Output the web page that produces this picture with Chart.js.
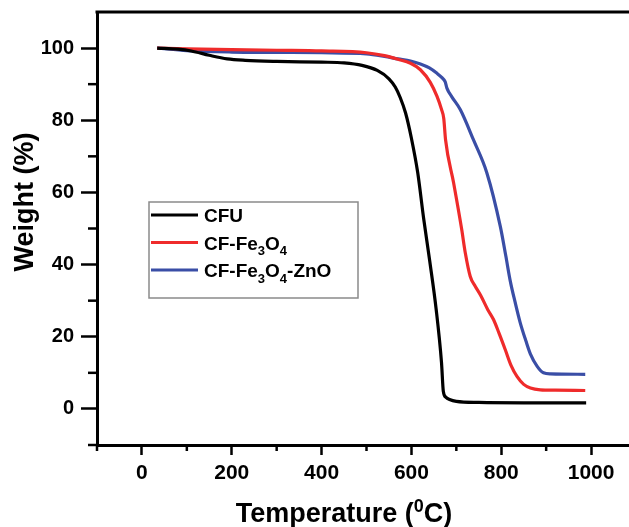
<!DOCTYPE html>
<html>
<head>
<meta charset="utf-8">
<script src="https://cdn.jsdelivr.net/npm/chart.js@4"></script>
<style>
  html, body { margin: 0; padding: 0; background: #fff; overflow: hidden; }
  #wrap { width: 650px; height: 527px; }
</style>
</head>
<body>
<div id="wrap"><canvas id="tga"></canvas></div>
<script>
// ── data ──
const seriesNames = ['CFU', 'CF-Fe3O4', 'CF-Fe3O4-ZnO'];
const seriesColors = ['#000000', '#ef2b2b', '#3a4ea6'];

const cfuT = [34, 80, 110, 150, 190, 230, 300, 400, 450, 490, 524, 550, 564, 575, 587, 600, 614, 627, 641, 655, 667, 671, 677, 685, 700, 750, 850, 989];
const cfuW = [100, 99.7, 99.2, 98, 97, 96.6, 96.3, 96.1, 95.9, 95.2, 93.8, 91.5, 89.2, 86.3, 82, 75, 65.5, 53, 40.8, 27.7, 12.8, 4.9, 3.2, 2.6, 2.1, 1.8, 1.7, 1.7];

const feT = [34, 100, 200, 300, 400, 500, 540, 570, 598, 620, 642, 657, 667, 672, 676, 694, 712, 720, 731, 742, 754, 770, 783, 795, 809, 822, 835, 850, 865, 887, 920, 987];
const feW = [100, 99.8, 99.6, 99.4, 99.2, 98.7, 97.9, 96.9, 95.8, 94, 90.5, 86.6, 83, 80.5, 74.6, 62.6, 49.7, 43.2, 36.7, 34, 31.5, 27.5, 24.7, 21, 16.4, 12, 9, 6.8, 5.8, 5.3, 5.2, 5.1];

const znT = [34, 100, 200, 300, 400, 500, 540, 570, 598, 620, 640, 657, 668, 675, 679, 690, 709, 738, 768, 798, 810, 820, 831, 842, 855, 865, 880, 894, 910, 987];
const znW = [100, 99.3, 98.9, 98.8, 98.7, 98.4, 97.7, 97, 96.4, 95.6, 94.5, 93, 91.8, 90.7, 88.9, 86.5, 82.9, 74.6, 65.4, 50.5, 42.5, 35.5, 29.5, 24, 18.8, 15.2, 11.8, 10, 9.7, 9.6];

const xTicks = [0, 200, 400, 600, 800, 1000];
const xMinor = [-100, 100, 300, 500, 700, 900];
const yTicks = [0, 20, 40, 60, 80, 100];
const yMinor = [-10, 10, 30, 50, 70, 90];

const FONT = "'Liberation Sans', Arial, sans-serif";

function pts(xs, ys) {
  return xs.map((x, i) => ({ x, y: ys[i] }));
}

// draws "CF-Fe3O4" style text with digits as subscripts
function drawChem(ctx, text, x, y, size) {
  let cx = x;
  for (const ch of text) {
    const sub = /[0-9]/.test(ch);
    ctx.font = `bold ${sub ? Math.round(size * 0.7) : size}px ${FONT}`;
    ctx.fillText(ch, cx, sub ? y + size * 0.3 : y);
    cx += ctx.measureText(ch).width;
  }
}

// ── Plugin: minor ticks, top frame, legend box, axis titles ──
const framePlugin = {
  id: 'frame',
  afterDraw(chart) {
    const ctx = chart.ctx;
    const { left, right, top, bottom } = chart.chartArea;
    const xs = chart.scales.x, ys = chart.scales.y;
    ctx.save();
    ctx.strokeStyle = '#000';
    ctx.lineWidth = 2.5;

    // minor ticks
    xMinor.forEach(v => {
      const px = xs.getPixelForValue(v);
      ctx.beginPath(); ctx.moveTo(px, bottom); ctx.lineTo(px, bottom + 6); ctx.stroke();
    });
    yMinor.forEach(v => {
      const py = ys.getPixelForValue(v);
      ctx.beginPath(); ctx.moveTo(left, py); ctx.lineTo(left - 9, py); ctx.stroke();
    });

    // top frame line
    ctx.lineWidth = 3;
    ctx.beginPath(); ctx.moveTo(left - 1.5, top); ctx.lineTo(right, top); ctx.stroke();

    // legend
    const lx = left + 52, ly = top + 190, lw = 209, lh = 96;
    ctx.lineWidth = 1.5;
    ctx.strokeStyle = '#8a8a8a';
    ctx.strokeRect(lx, ly, lw, lh);
    ctx.textBaseline = 'alphabetic';
    chart.data.datasets.forEach((ds, i) => {
      const ry = ly + 13 + i * 27.5;
      ctx.strokeStyle = ds.borderColor;
      ctx.lineWidth = 3;
      ctx.beginPath(); ctx.moveTo(lx + 2, ry); ctx.lineTo(lx + 49, ry); ctx.stroke();
      ctx.fillStyle = '#000';
      drawChem(ctx, ds.label, lx + 55, ry + 7, 19);
    });

    // axis titles
    ctx.fillStyle = '#000';
    ctx.font = `bold 27px ${FONT}`;
    ctx.textAlign = 'center';
    ctx.save();
    ctx.translate(33, 202);
    ctx.rotate(-Math.PI / 2);
    ctx.fillText('Weight (%)', 0, 0);
    ctx.restore();

    // x title with superscript 0
    const p1 = 'Temperature (', sup = '0', p2 = 'C)';
    ctx.textAlign = 'left';
    ctx.font = `bold 27px ${FONT}`;
    const w1 = ctx.measureText(p1).width, w3 = ctx.measureText(p2).width;
    ctx.font = `bold 18px ${FONT}`;
    const w2 = ctx.measureText(sup).width;
    let tx = 344 - (w1 + w2 + w3) / 2;
    const by = 522;
    ctx.font = `bold 27px ${FONT}`;
    ctx.fillText(p1, tx, by); tx += w1;
    ctx.font = `bold 18px ${FONT}`;
    ctx.fillText(sup, tx, by - 10); tx += w2;
    ctx.font = `bold 27px ${FONT}`;
    ctx.fillText(p2, tx, by);
    ctx.restore();
  },
};

const datasets = [[cfuT, cfuW], [feT, feW], [znT, znW]].map((s, i) => ({
  label: seriesNames[i],
  data: pts(s[0], s[1]),
  borderColor: seriesColors[i],
  backgroundColor: seriesColors[i],
  borderWidth: 3.2,
  pointRadius: 0,
  cubicInterpolationMode: 'monotone',
  fill: false,
}));

new Chart(document.getElementById('tga'), {
  type: 'line',
  data: { datasets },
  plugins: [framePlugin],
  options: {
    responsive: true,
    maintainAspectRatio: false,
    animation: false,
    layout: { padding: { top: 12, right: 14, left: 0, bottom: 0 } },
    plugins: { legend: { display: false }, tooltip: { enabled: false } },
    scales: {
      x: {
        type: 'linear',
        min: -100, max: 1100,
        afterBuildTicks: s => { s.ticks = xTicks.map(v => ({ value: v })); },
        afterFit: s => { s.height = 82; s.paddingLeft = 0; s.paddingRight = 0; },
        grid: { drawOnChartArea: false, drawTicks: true, tickLength: 10, tickWidth: 2.5, tickColor: '#000' },
        border: { display: true, color: '#000', width: 3 },
        ticks: {
          color: '#000', padding: 6, maxRotation: 0,
          font: { family: FONT, size: 21, weight: 'bold' },
          callback: v => String(v),
        },
      },
      y: {
        min: -10, max: 110,
        afterBuildTicks: s => { s.ticks = yTicks.map(v => ({ value: v })); },
        afterFit: s => { s.width = 97; s.paddingTop = 0; s.paddingBottom = 0; },
        grid: { drawOnChartArea: false, drawTicks: true, tickLength: 16, tickWidth: 2.5, tickColor: '#000' },
        border: { display: true, color: '#000', width: 3 },
        ticks: {
          color: '#000', padding: 7,
          font: { family: FONT, size: 20, weight: 'bold' },
          callback: v => String(v),
        },
      },
    },
  },
});
</script>
</body>
</html>
